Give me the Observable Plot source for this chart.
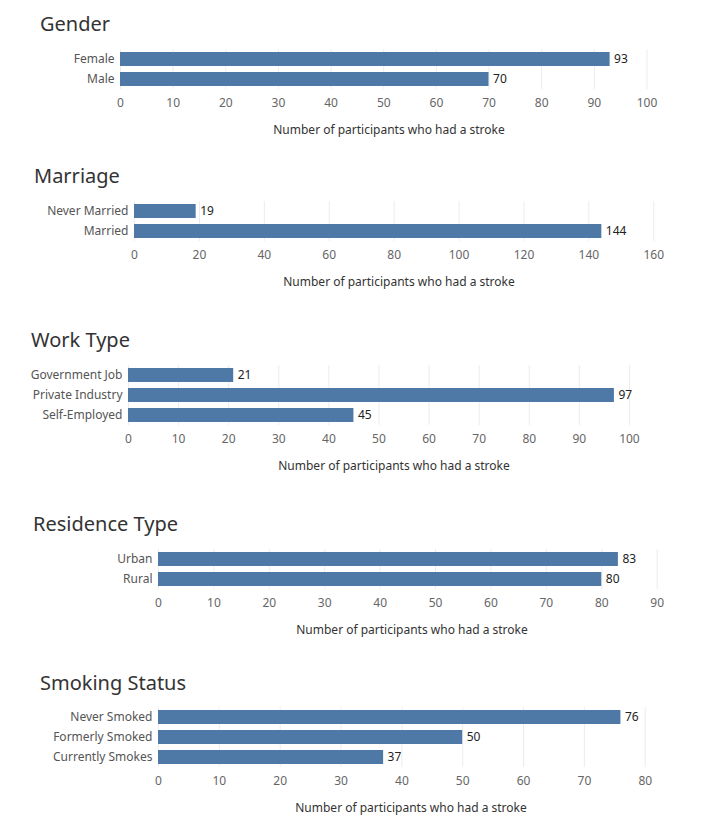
<!DOCTYPE html>
<html><head><meta charset="utf-8">
<script src="https://cdn.jsdelivr.net/npm/d3@7"></script>
<script src="https://cdn.jsdelivr.net/npm/@observablehq/plot@0.6"></script>
<style>
body{margin:0;background:#fff;font-family:"Noto Sans",sans-serif;}
#wrap{position:relative;width:728px;height:832px;}
.t{position:absolute;font-size:20px;color:#333;}
.c{position:absolute;left:0;}
</style></head>
<body><div id="wrap"></div>
<script>
const genderCats = ["Female", "Male"];
const genderVals = [93, 70];
const marriageCats = ["Never Married", "Married"];
const marriageVals = [19, 144];
const workCats = ["Government Job", "Private Industry", "Self-Employed"];
const workVals = [21, 97, 45];
const residenceCats = ["Urban", "Rural"];
const residenceVals = [83, 80];
const smokingCats = ["Never Smoked", "Formerly Smoked", "Currently Smokes"];
const smokingVals = [76, 50, 37];

const charts = [
  {title: "Gender", cats: genderCats, vals: genderVals, tx: 40, ty: 10, top: 52, left: 120, right: 657, max: 102, ticks: d3.range(0, 101, 10)},
  {title: "Marriage", cats: marriageCats, vals: marriageVals, tx: 34, ty: 162, top: 204, left: 134, right: 663, max: 163, ticks: d3.range(0, 161, 20)},
  {title: "Work Type", cats: workCats, vals: workVals, tx: 31, ty: 326, top: 368, left: 128, right: 659, max: 106, ticks: d3.range(0, 101, 10)},
  {title: "Residence Type", cats: residenceCats, vals: residenceVals, tx: 33, ty: 510, top: 552, left: 158, right: 665, max: 91.5, ticks: d3.range(0, 91, 10)},
  {title: "Smoking Status", cats: smokingCats, vals: smokingVals, tx: 40, ty: 669, top: 710, left: 158, right: 663, max: 83, ticks: d3.range(0, 81, 10)}
];

const wrap = d3.select("#wrap");
charts.forEach(c => {
  wrap.append("div").attr("class", "t").style("left", c.tx + "px").style("top", c.ty + "px").text(c.title);
  const data = c.cats.map((k, i) => ({cat: k, val: c.vals[i]}));
  const h = c.cats.length * 20;
  const chart = Plot.plot({
    width: 728,
    height: h + 52,
    marginTop: 0,
    marginBottom: 52,
    marginLeft: c.left,
    marginRight: 728 - c.right,
    style: {fontFamily: "Noto Sans, sans-serif", fontSize: "12px", color: "#666"},
    x: {domain: [0, c.max], ticks: c.ticks},
    y: {domain: c.cats, paddingInner: 0.3, paddingOuter: 0.15},
    marks: [
      Plot.gridX(c.ticks, {stroke: "#ececec", strokeOpacity: 1}),
      Plot.barX(data, {x: "val", y: "cat", fill: "#4e79a7"}),
      Plot.text(data, {x: "val", y: "cat", text: d => String(d.val), dx: 4, textAnchor: "start", fill: "#222", fontSize: 12}),
      Plot.axisX({ticks: c.ticks, tickSize: 0, tickPadding: 9, fill: "#666", label: "Number of participants who had a stroke", labelAnchor: "center", labelArrow: "none", labelOffset: 44}),
      Plot.axisY({tickSize: 0, tickPadding: 6, fill: "#555", label: null})
    ]
  });
  d3.select(chart).select('[aria-label="x-axis label"]').attr("fill", "#333");
  wrap.append("div").attr("class", "c").style("top", (c.top - 3) + "px").append(() => chart);
});
</script></body></html>
